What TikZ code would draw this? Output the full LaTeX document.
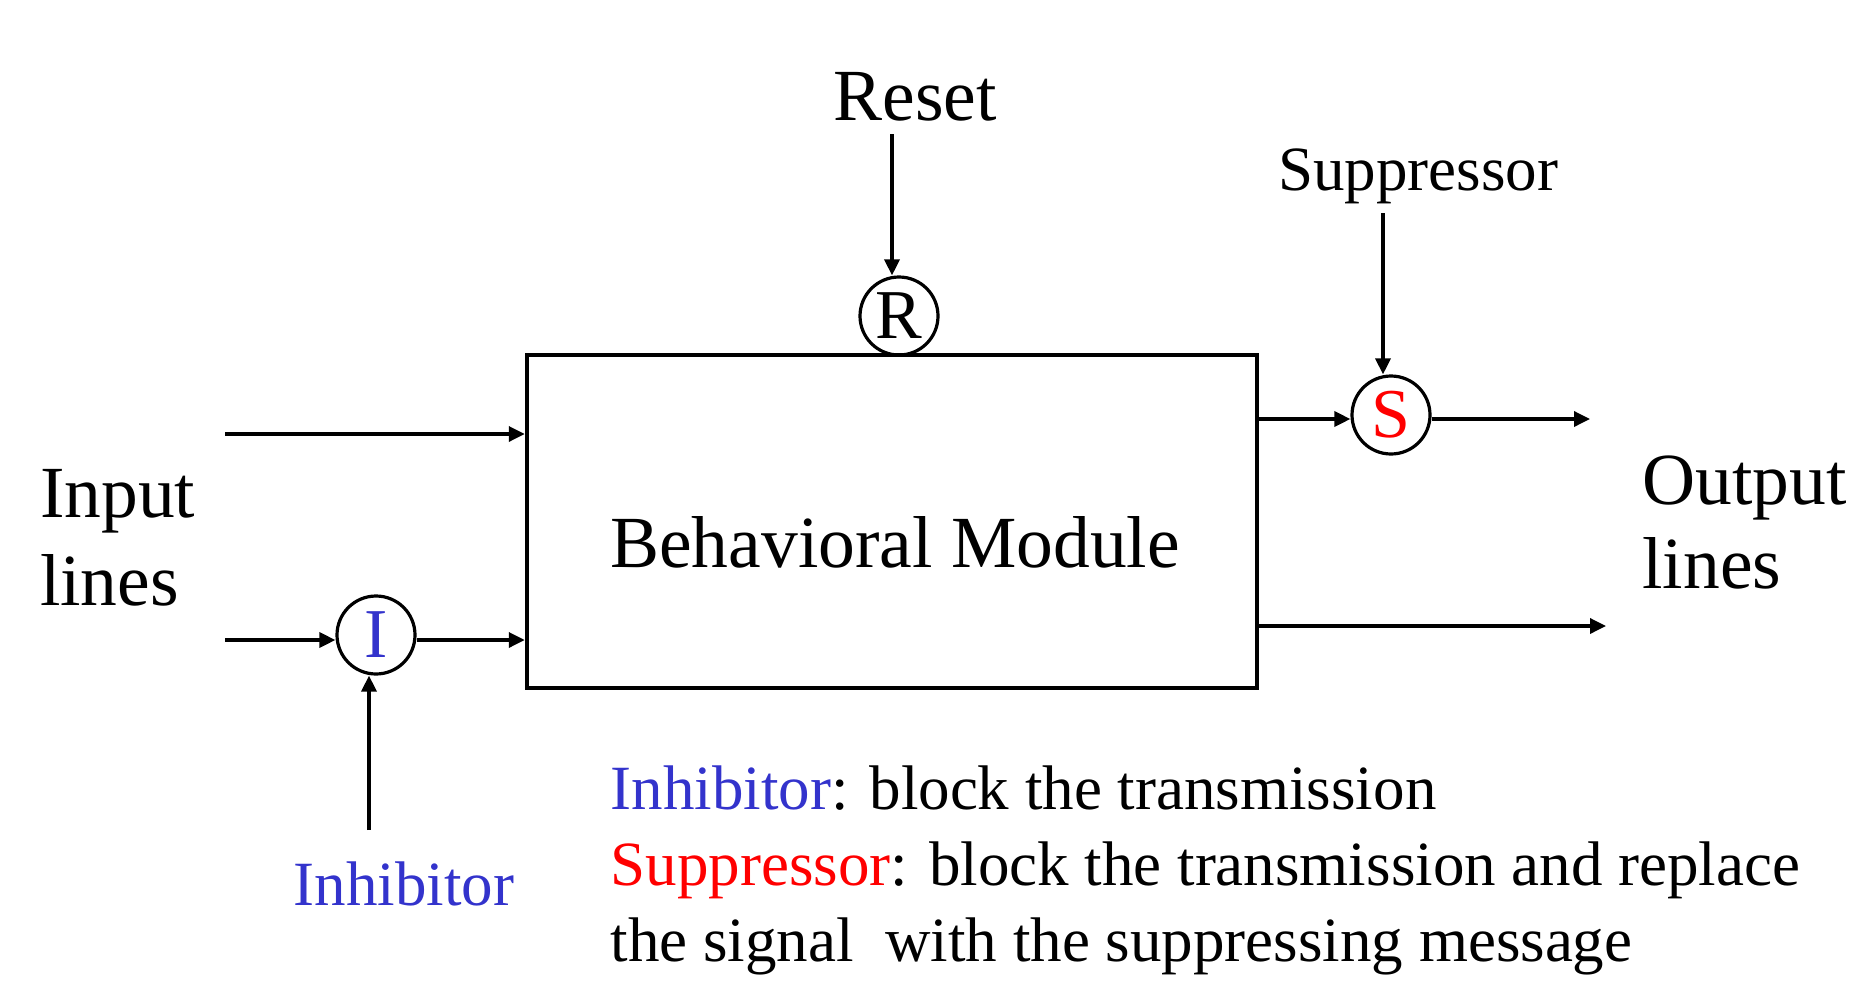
\documentclass[tikz,border=0pt]{standalone}
\usepackage{fontspec}
\setmainfont{Liberation Serif}
\usetikzlibrary{arrows.meta}
\definecolor{inhblue}{RGB}{51,51,204}
\definecolor{supred}{RGB}{255,0,0}
\begin{document}
\begin{tikzpicture}[x=1pt,y=-1pt,
  conn/.style={line width=3.4pt,-{Triangle[length=16pt,width=15pt]}},
  gate/.style={circle,draw,line width=3.2pt,minimum size=78pt,inner sep=0pt,font=\fontsize{70}{70}\selectfont},
  big/.style={font=\fontsize{73.5}{87}\selectfont},
  mid/.style={font=\fontsize{63}{76}\selectfont},
  boxstyle/.style={draw,line width=4.5pt,minimum width=730pt,minimum height=333pt,inner sep=0pt}]
\useasboundingbox (0,0) rectangle (1860,980);
% main box
\node[boxstyle] (box) at (892,521.5) {};
\node[big,anchor=base] (bm) at (895,567) {Behavioral Module};
% reset
\node[big,anchor=base] (reset) at (915,120) {Reset};
\coordinate (rs) at (892,134);
\node[gate] (R) at (899,316) {R};
\draw[conn] (rs) -- (rs |- R.north);
% suppressor
\node[mid,anchor=base] (suplabel) at (1418,190) {Suppressor};
\coordinate (ss) at (1383,213);
\node[gate,text=supred] (S) at (1391,415) {S};
\draw[conn] (ss) -- (ss |- S.north);
\coordinate (o1) at (1590,419);
\draw[conn] (box.east |- o1) -- (o1 -| S.west);
\draw[conn] (o1 -| S.east) -- (o1);
\coordinate (o2) at (1606,626);
\draw[conn] (box.east |- o2) -- (o2);
\node[big,anchor=base west,align=left,font=\fontsize{73.5}{84}\selectfont] (out) at (1639,588) {Output\\lines};
% inputs
\node[big,anchor=base west,align=left,font=\fontsize{73.5}{88}\selectfont] (in) at (36.5,605) {Input\\lines};
\coordinate (i1) at (225,434);
\draw[conn] (i1) -- (i1 -| box.west);
\coordinate (i2) at (225,640);
\node[gate,text=inhblue] (I) at (376,635) {I};
\draw[conn] (i2) -- (i2 -| I.west);
\draw[conn] (i2 -| I.east) -- (i2 -| box.west);
\coordinate (ib) at (369,830);
\draw[conn] (ib) -- (ib |- I.south);
\node[mid,text=inhblue,anchor=base] (inhlabel) at (404,905) {Inhibitor};
% description
\node[mid,anchor=base west,align=left] (desc) at (607,961) {\textcolor{inhblue}{Inhibitor}: block the transmission\\\textcolor{supred}{Suppressor}: block the transmission and replace\\the signal\ \ with the suppressing message};
\end{tikzpicture}
\end{document}
